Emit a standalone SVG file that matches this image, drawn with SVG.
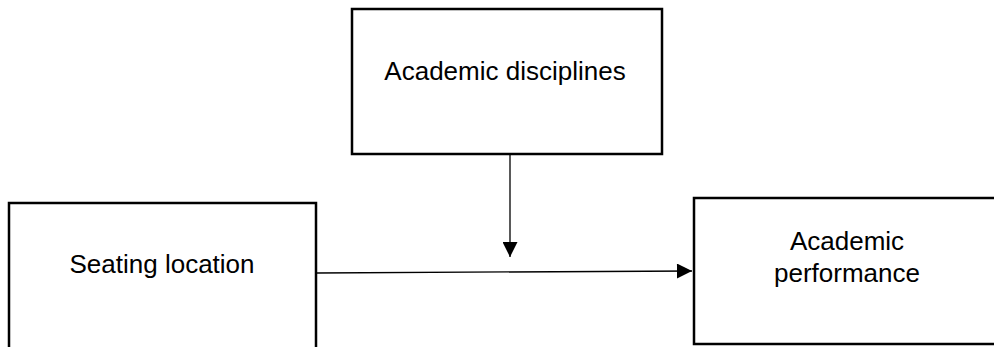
<svg xmlns="http://www.w3.org/2000/svg" width="994" height="347" viewBox="0 0 994 347">
<defs>
<style>
.box{fill:#fff;stroke:#000;stroke-width:2.5}
.lbl{font-family:"Liberation Sans",Arial,sans-serif;font-size:26px;fill:#000;text-anchor:middle}
.conn{stroke:#000;stroke-width:1.3;fill:none}
</style>
<marker id="arr" viewBox="0 0 10 10" refX="10" refY="5" markerUnits="userSpaceOnUse" markerWidth="16" markerHeight="15" orient="auto">
<path d="M0,0 L10,5 L0,10 Z" fill="#000"/>
</marker>
</defs>
<rect width="994" height="347" fill="#fff"/>
<g id="academic-disciplines">
<rect class="box" x="352" y="9" width="310" height="145"/>
<text class="lbl" x="505" y="80">Academic disciplines</text>
</g>
<g id="seating-location">
<rect class="box" x="9" y="203" width="307" height="160"/>
<text class="lbl" x="162" y="273">Seating location</text>
</g>
<g id="academic-performance">
<rect class="box" x="694" y="198" width="320" height="146"/>
<text class="lbl" x="847" y="250">Academic</text>
<text class="lbl" x="847" y="282">performance</text>
</g>
<g id="connectors">
<line class="conn" x1="510" y1="155" x2="510" y2="257" marker-end="url(#arr)"/>
<line class="conn" x1="317" y1="273" x2="692" y2="271" marker-end="url(#arr)"/>
</g>
</svg>
